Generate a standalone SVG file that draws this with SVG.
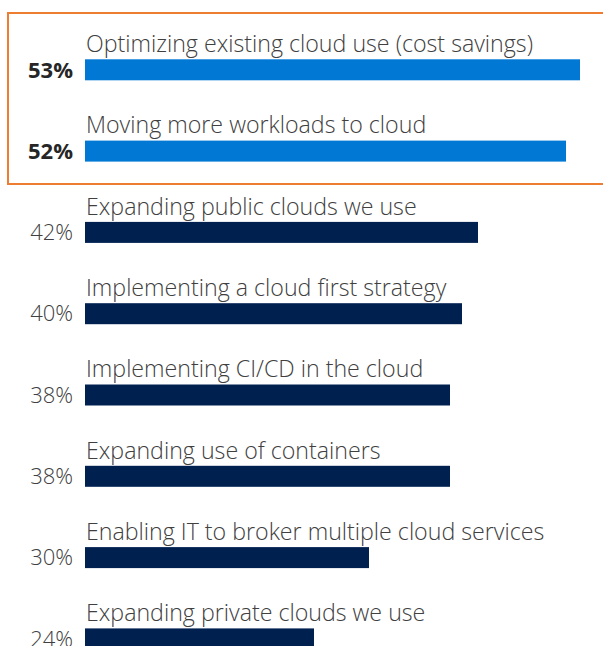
<svg xmlns="http://www.w3.org/2000/svg" width="603" height="646" viewBox="0 0 603 646">
<style>
.lbl{font-family:"Open Sans","Noto Sans","Liberation Sans",sans-serif;font-weight:300;font-size:23.2px;fill:#404040}
.pct{font-family:"Open Sans","Noto Sans","Liberation Sans",sans-serif;font-weight:300;font-size:22px;fill:#404040;text-anchor:end}
.pb{font-weight:700;fill:#262626}
.hi{fill:#0078D4}
.bar{fill:#002050}
</style>
<rect x="0" y="0" width="603" height="646" fill="#ffffff"/>
<rect id="highlight" x="8" y="13" width="610" height="171" fill="none" stroke="#ED7D31" stroke-width="2"/>
<g id="row1"><text class="lbl" x="86" y="52">Optimizing existing cloud use (cost savings)</text><text class="pct pb" x="73" y="77.5">53%</text><rect class="hi" x="85" y="59.3" width="495" height="21"/></g>
<g id="row2"><text class="lbl" x="86" y="133.3">Moving more workloads to cloud</text><text class="pct pb" x="73" y="158.8">52%</text><rect class="hi" x="85" y="140.6" width="481" height="21"/></g>
<g id="row3"><text class="lbl" x="86" y="214.6">Expanding public clouds we use</text><text class="pct" x="73" y="240.1">42%</text><rect class="bar" x="85" y="221.9" width="393" height="21"/></g>
<g id="row4"><text class="lbl" x="86" y="295.9">Implementing a cloud first strategy</text><text class="pct" x="73" y="321.4">40%</text><rect class="bar" x="85" y="303.2" width="377" height="21"/></g>
<g id="row5"><text class="lbl" x="86" y="377.2">Implementing CI/CD in the cloud</text><text class="pct" x="73" y="402.7">38%</text><rect class="bar" x="85" y="384.5" width="365" height="21"/></g>
<g id="row6"><text class="lbl" x="86" y="458.5">Expanding use of containers</text><text class="pct" x="73" y="484">38%</text><rect class="bar" x="85" y="465.8" width="365" height="21"/></g>
<g id="row7"><text class="lbl" x="86" y="539.8">Enabling IT to broker multiple cloud services</text><text class="pct" x="73" y="565.3">30%</text><rect class="bar" x="85" y="547.1" width="284" height="21"/></g>
<g id="row8"><text class="lbl" x="86" y="621.1">Expanding private clouds we use</text><text class="pct" x="73" y="646.6">24%</text><rect class="bar" x="85" y="628.4" width="229" height="21"/></g>
<g id="connectors"/>
</svg>
